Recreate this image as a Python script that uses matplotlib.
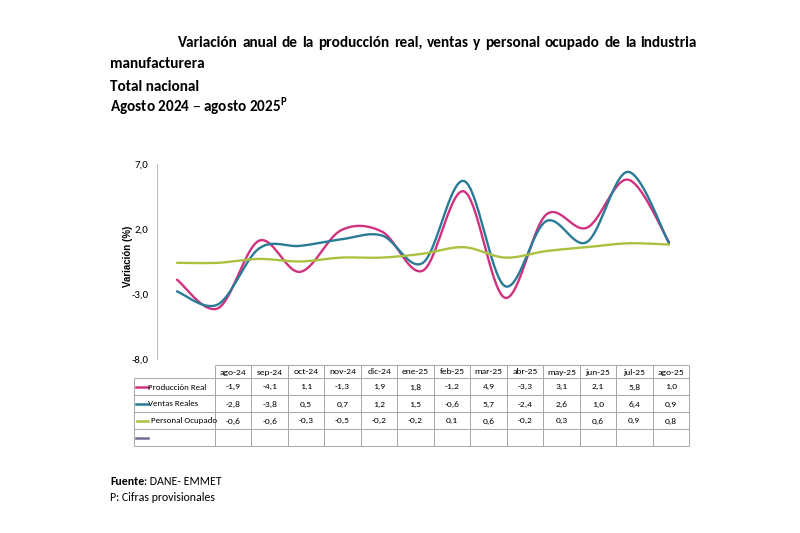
import numpy as np
import matplotlib
matplotlib.use("Agg")
import matplotlib.pyplot as plt

## == data ==
meses = ["ago-24", "sep-24", "oct-24", "nov-24", "dic-24", "ene-25", "feb-25",
         "mar-25", "abr-25", "may-25", "jun-25", "jul-25", "ago-25"]
produccion_real  = [-1.9, -4.1, 1.1, -1.3, 1.9, 1.8, -1.2, 4.9, -3.3, 3.1, 2.1, 5.8, 1.0]
ventas_reales    = [-2.8, -3.8, 0.5, 0.7, 1.2, 1.5, -0.6, 5.7, -2.4, 2.6, 1.0, 6.4, 0.9]
personal_ocupado = [-0.6, -0.6, -0.3, -0.5, -0.2, -0.2, 0.1, 0.6, -0.2, 0.3, 0.6, 0.9, 0.8]
series_names = ["Producción Real", "Ventas Reales", "Personal Ocupado"]
yticks = [-8.0, -3.0, 2.0, 7.0]

colors = ["#d1327f", "#2a7b96", "#a9c23f"]
CAL = ["Carlito", "DejaVu Sans"]
W, H = 800, 533


def fx(x): return x / W
def fy(y): return 1 - y / H
def coma(v): return f"{v:.1f}".replace(".", ",")


def smooth(xs, ys, n=20):
    # excel style smoothed line (bezier through the points, catmull-rom handles)
    pts = np.column_stack([xs, ys]).astype(float)
    pts = np.vstack([pts[0], pts, pts[-1]])
    out = []
    t = np.linspace(0, 1, n)[:, None]
    for i in range(1, len(pts) - 2):
        p0, p1, p2, p3 = pts[i-1], pts[i], pts[i+1], pts[i+2]
        c1 = p1 + (p2 - p0) / 6
        c2 = p2 - (p3 - p1) / 6
        seg = (1-t)**3*p1 + 3*(1-t)**2*t*c1 + 3*(1-t)*t**2*c2 + t**3*p2
        out.append(seg if i == 1 else seg[1:])
    out = np.vstack(out)
    return out[:, 0], out[:, 1]


fig = plt.figure(figsize=(8, 5.33), dpi=100)

## == line chart ==
ax = fig.add_axes([fx(157), fy(359), fx(690-157), (359-164)/H])
idx = np.arange(len(meses))
for vals, c in zip([produccion_real, ventas_reales, personal_ocupado], colors):
    sx, sy = smooth(idx, vals)
    ax.plot(sx, sy, color=c, lw=1.7, solid_capstyle='round')
ax.set_xlim(-20/41, 12 + 21/41)
ax.set_ylim(-8, 7)
ax.set_yticks(yticks)
ax.set_yticklabels([coma(v) for v in yticks], family=CAL, fontsize=7.8)
ax.set_xticks([])
ax.tick_params(axis='y', length=0, pad=6)
for s in ["top", "right", "bottom"]:
    ax.spines[s].set_visible(False)
ax.spines["left"].set_color("#bfbfbf")
ax.spines["left"].set_linewidth(0.8)
fig.text(fx(128), fy(256), "Variación (%)", rotation=90, ha="center", va="center",
         fontsize=7, fontweight="bold", family="Liberation Sans")

## == data table ==
tab = fig.add_axes([fx(130), fy(448), fx(692-130), (448-362)/H])
tab.set_xlim(130, 692)
tab.set_ylim(448, 362)
tab.axis("off")
rows = [365, 378, 395, 412, 429, 446]
cols = [134, 215] + [215 + (689-215)/13*i for i in range(1, 14)]
gc, glw = "#a6a6a6", 0.7
tab.hlines(rows[0], cols[1], cols[-1], color=gc, lw=glw)
tab.hlines(rows[1:], cols[0], cols[-1], color=gc, lw=glw)
tab.vlines(cols[0], rows[1], rows[-1], color=gc, lw=glw)
tab.vlines(cols[1:], rows[0], rows[-1], color=gc, lw=glw)
fs = 6.8
for j, m in enumerate(meses):
    cx = (cols[j+1] + cols[j+2]) / 2
    tab.text(cx, (rows[0]+rows[1])/2 + 0.5, m, ha="center", va="center", fontsize=fs, family=CAL)
for i, (vals, name, c) in enumerate(zip([produccion_real, ventas_reales, personal_ocupado],
                                        series_names, colors)):
    cy = (rows[i+1] + rows[i+2]) / 2
    x0 = 137 if i == 2 else 136
    tab.plot([x0, 148], [cy, cy], color=c, lw=1.8)
    tab.text(151 if i == 2 else 148, cy + 0.5, name, ha="left", va="center", fontsize=6.4, family=CAL)
    for j, v in enumerate(vals):
        cx = (cols[j+1] + cols[j+2]) / 2
        tab.text(cx, cy + 0.5, coma(v), ha="center", va="center", fontsize=fs, family=CAL)
cy = (rows[4] + rows[5]) / 2
tab.plot([136, 148], [cy, cy], color="#6f6f96", lw=1.8)

## == titles (first line justified like the report) ==
words = "Variación anual de la producción real, ventas y personal ocupado de la industria".split()
fig.canvas.draw()
r = fig.canvas.get_renderer()
tw = [fig.text(0, 0, w, fontsize=11, fontweight="bold", family=CAL, va="baseline") for w in words]
widths = [t.get_window_extent(r).width for t in tw]
gap = (697 - 178 - sum(widths)) / (len(words) - 1)
x = 178
for t, wd in zip(tw, widths):
    t.set_position((fx(x), fy(47)))
    x += wd + gap
fig.text(fx(110), fy(68), "manufacturera", fontsize=11, fontweight="bold", family=CAL, va="baseline")
fig.text(fx(110), fy(91), "Total nacional", fontsize=11, fontweight="bold", family=CAL, va="baseline")
fig.text(fx(110), fy(112), "Agosto 2024 – agosto 2025$^{\\mathregular{P}}$", fontsize=11,
         fontweight="bold", family=CAL, va="baseline")

## == footnotes ==
t1 = fig.text(fx(110), fy(485), "Fuente", fontsize=8.6, fontweight="bold", family=CAL, va="baseline")
w1 = t1.get_window_extent(r).width
fig.text(fx(110 + w1), fy(485), ": DANE- EMMET", fontsize=8.6, family=CAL, va="baseline")
fig.text(fx(110), fy(501), "P: Cifras provisionales", fontsize=8.6, family=CAL, va="baseline")

fig.savefig("out.png", dpi=100)
